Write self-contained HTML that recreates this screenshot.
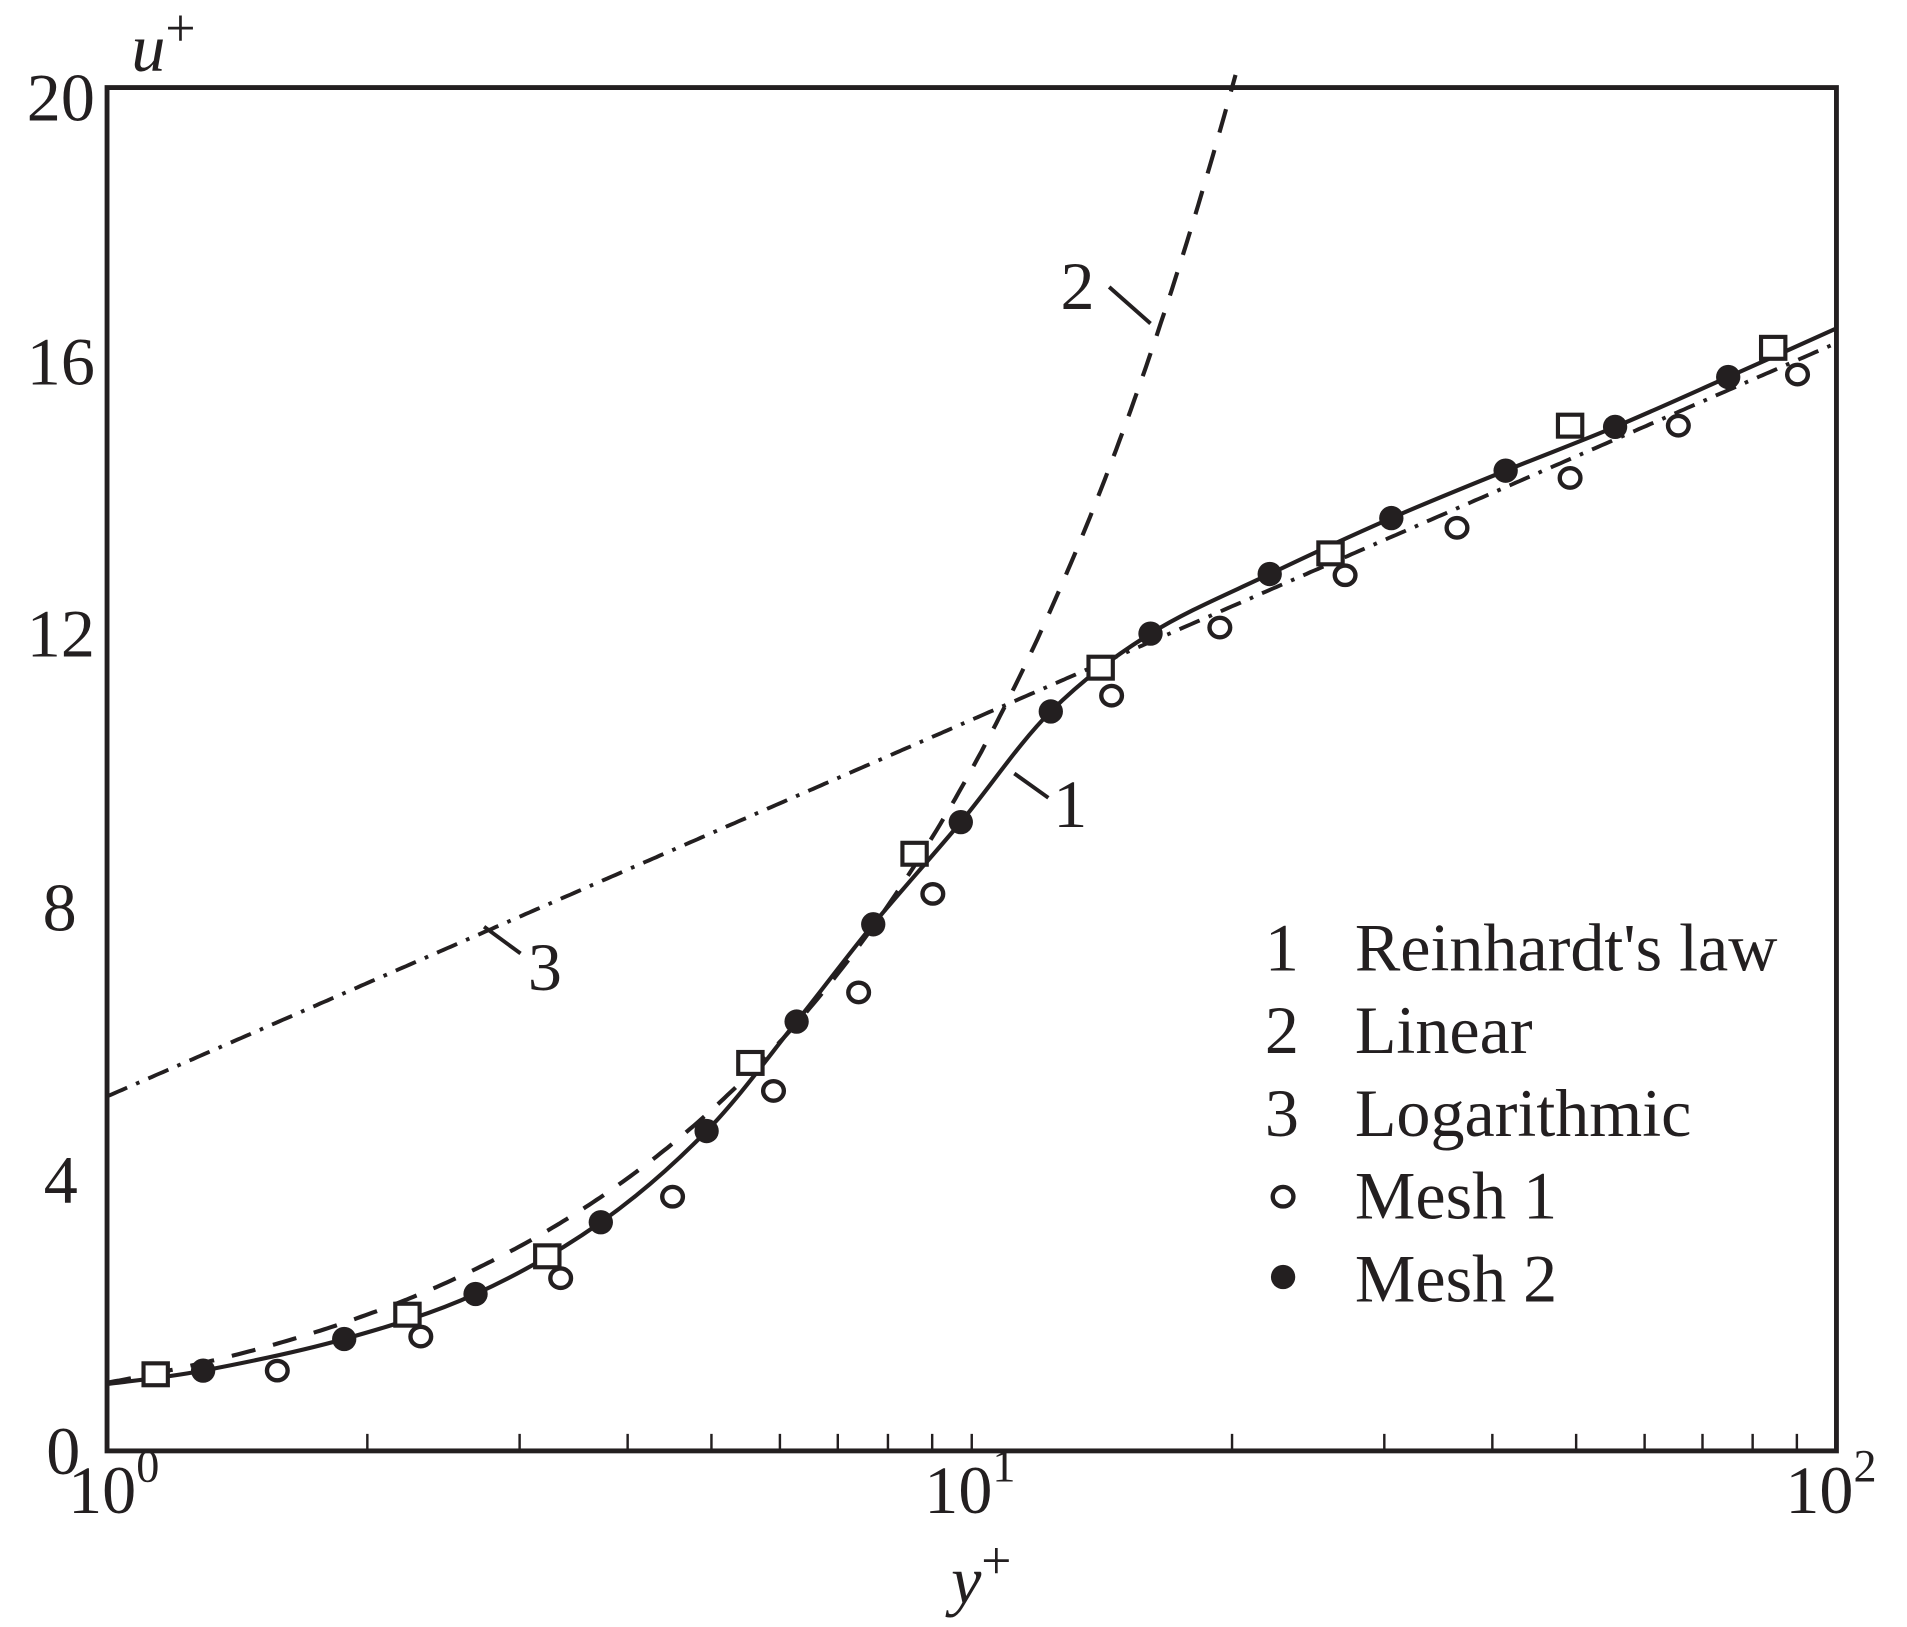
<!DOCTYPE html>
<html><head><meta charset="utf-8"><style>
html,body{margin:0;padding:0;background:#fff;}
svg{display:block;}
text{font-family:"Liberation Serif",serif;fill:#231f20;}
</style></head><body>
<svg id="s" width="1907" height="1627" viewBox="0 0 1568 1337.8" xmlns="http://www.w3.org/2000/svg">
<rect x="0" y="0" width="1568" height="1338" fill="#fff"/>
<g id="g" stroke="#231f20" fill="none"></g>
<g font-size="56" text-anchor="end">
<text x="78" y="99">20</text>
<text x="78" y="316">16</text>
<text x="78" y="540">12</text>
<text x="63" y="765">8</text>
<text x="64" y="989">4</text>
<text x="66" y="1212">0</text>
</g>
<g font-size="56">
<text x="56" y="1244">10<tspan font-size="38" dy="-26">0</tspan></text>
<text x="760" y="1244">10<tspan font-size="38" dy="-26">1</tspan></text>
<text x="1468" y="1244">10<tspan font-size="38" dy="-26">2</tspan></text>
<text x="108" y="58" font-style="italic">u<tspan font-style="normal" font-size="44" dy="-20">+</tspan></text>
<text x="782" y="1318" font-style="italic">y<tspan font-style="normal" font-size="44" dy="-20">+</tspan></text>
<text x="872" y="254">2</text>
<text x="866" y="680">1</text>
<text x="434" y="814">3</text>
<text x="1040" y="798">1</text>
<text x="1040" y="866">2</text>
<text x="1040" y="934">3</text>
<text x="1114" y="798">Reinhardt's law</text>
<text x="1114" y="866">Linear</text>
<text x="1114" y="934">Logarithmic</text>
<text x="1114" y="1002">Mesh 1</text>
<text x="1114" y="1070">Mesh 2</text>
</g>
</svg>
<script>
var g=document.getElementById('g'),NS='http://www.w3.org/2000/svg';
function el(t,a){var e=document.createElementNS(NS,t);for(var k in a)e.setAttribute(k,a[k]);g.appendChild(e);return e;}
var X0=88,DX=711,Y0=1193,DY=56.05;
function X(y){return X0+DX*Math.log10(y);}function Y(u){return Y0-DY*u;}
el('rect',{x:88,y:72,width:1422,height:1121,'stroke-width':4});
for(var d=0;d<2;d++)for(var k=2;k<=10;k++){var x=X(k*Math.pow(10,d));el('line',{x1:x,y1:1193,x2:x,y2:1179,'stroke-width':2});}
var p='';for(var y=1;y<=20.2;y*=1.01){p+=(p?'L':'M')+X(y).toFixed(1)+','+Y(y).toFixed(1);}
el('path',{d:p,'stroke-width':3.4,'stroke-dasharray':'20 15'});
p='';for(var y=1;y<=100.01;y*=1.01){p+=(p?'L':'M')+X(y).toFixed(1)+','+Y(2.4*Math.log(y)+5.2).toFixed(1);}
el('path',{d:p,'stroke-width':3.2,'stroke-dasharray':'18 8 3 8'});
var pts=[[88,1138],[167,1127],[283,1101],[391,1064],[494,1005],[581,930],[655,840],[718,760],[790,676],[864,585],[946,521],[1044,472],[1144,426],[1238,387],[1328,351],[1421,310],[1510,270]];
p='M'+pts[0];for(var i=0;i<pts.length-1;i++){var a=pts[Math.max(i-1,0)],b=pts[i],c=pts[i+1],e=pts[Math.min(i+2,pts.length-1)];
p+='C'+(b[0]+(c[0]-a[0])/6)+','+(b[1]+(c[1]-a[1])/6)+' '+(c[0]-(e[0]-b[0])/6)+','+(c[1]-(e[1]-b[1])/6)+' '+c[0]+','+c[1];}
el('path',{d:p,'stroke-width':3.4});
el('line',{x1:912,y1:236,x2:946,y2:266,'stroke-width':3.2});
el('line',{x1:834,y1:636,x2:862,y2:656,'stroke-width':3.2});
el('line',{x1:398,y1:762,x2:428,y2:784,'stroke-width':3.2});
[[128,1130],[335,1081],[450,1033],[617,874],[752,702],[905,549],[1094,455],[1291,350],[1458,286]].forEach(function(q){el('rect',{x:q[0]-10,y:q[1]-9,width:20,height:18,fill:'#fff','stroke-width':3.4});});
[[228,1127],[346,1099],[461,1051],[553,984],[636,897],[706,816],[767,735],[914,572],[1003,516],[1106,473],[1198,434],[1291,393],[1380,350],[1478,308],[1055,984]].forEach(function(q){el('ellipse',{cx:q[0],cy:q[1],rx:8.5,ry:8,fill:'#fff','stroke-width':3.6});});
pts.slice(1,16).concat([[1055,1050]]).forEach(function(q){el('circle',{cx:q[0],cy:q[1],r:10,fill:'#231f20',stroke:'none'});});
</script>
</body></html>
